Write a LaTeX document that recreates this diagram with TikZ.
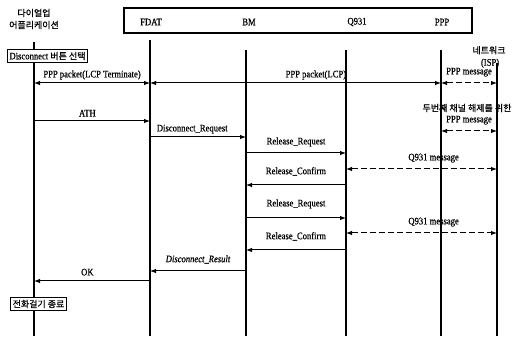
\documentclass[tikz,border=0pt]{standalone}
\usepackage{fontspec}
\setmainfont{Liberation Serif}[FakeStretch=0.86, FakeBold=0.6]
\newfontfamily\kor{Noto Sans CJK KR}[FakeBold=0.8]
\usetikzlibrary{arrows.meta, positioning}

\tikzset{
  life/.style={line width=1.1pt},
  tip/.style={-{Latex[length=6pt, width=4.5pt]}},
  msg/.style={line width=1pt, tip},
  both/.style={line width=1pt, {Latex[length=6pt, width=4.5pt]}-{Latex[length=6pt, width=4.5pt]}},
  dmsg/.style={both, dash pattern=on 6pt off 3pt},
  lbl/.style={inner sep=0pt, font=\fontsize{10}{11}\selectfont},
  korlbl/.style={inner sep=0pt, font=\kor\fontsize{9}{11}\selectfont},
  note/.style={draw, line width=1pt, fill=white, inner sep=2pt, font=\fontsize{10}{11}\selectfont}
}

\begin{document}
\begin{tikzpicture}[x=1pt, y=-1pt]
    \useasboundingbox (0,0) rectangle (517,339);

    % Header box
    \draw[life] (124,8) rectangle (472,33);
    \node[lbl] (fdat-h) at (151,22) {FDAT};
    \node[lbl] (bm-h) at (249,22) {BM};
    \node[lbl] (q931-h) at (357,22) {Q931};
    \node[lbl] (ppp-h) at (442,22) {PPP};

    % Application and network
    \node[korlbl, align=center] (app-h) at (34,19) {다이얼업\\[1pt]어플리케이션};
    \node[korlbl, align=center] (isp-h) at (489,57) {네트워크\\[1pt]{\rmfamily\fontsize{10}{11}\selectfont\ (ISP)}};

    % Lifelines
    \coordinate (app) at (34,42);   \coordinate (app-e) at (34,336);
    \coordinate (fdat) at (150,40); \coordinate (fdat-e) at (150,336);
    \coordinate (bm) at (246,50);   \coordinate (bm-e) at (246,336);
    \coordinate (q931) at (346,50); \coordinate (q931-e) at (346,336);
    \coordinate (ppp) at (441,50);  \coordinate (ppp-e) at (441,336);
    \coordinate (isp) at (497,63);  \coordinate (isp-e) at (497,336);
    \foreach \a in {app, fdat, bm, q931, ppp, isp}
        \draw[life] (\a) -- (\a-e);

    % Message levels
    \coordinate (y-lcp) at (0,83);
    \coordinate (y-ath) at (0,121);
    \coordinate (y-dreq) at (0,137);
    \coordinate (y-ppp2) at (0,131);
    \coordinate (y-rreq1) at (0,153);
    \coordinate (y-q1) at (0,169);
    \coordinate (y-rconf1) at (0,185);
    \coordinate (y-rreq2) at (0,218);
    \coordinate (y-q2) at (0,233);
    \coordinate (y-rconf2) at (0,250);
    \coordinate (y-dres) at (0,271);
    \coordinate (y-ok) at (0,281);

    % LCP terminate
    \draw[both] (app |- y-lcp) -- (fdat |- y-lcp) node[lbl, above=3pt, midway] {PPP packet(LCP Terminate)};
    \draw[both] (fdat |- y-lcp) -- (ppp |- y-lcp) node[lbl, above=3pt, pos=0.57] {PPP packet(LCP)};
    \draw[dmsg] (ppp |- y-lcp) -- (isp |- y-lcp) node[lbl, above=6pt, midway] {PPP message};

    % Disconnect
    \draw[msg] (app |- y-ath) -- (fdat |- y-ath) node[lbl, above=4pt, pos=0.46] {ATH};
    \draw[msg] (fdat |- y-dreq) -- (bm |- y-dreq) node[lbl, above=3pt, pos=0.44] {Disconnect\_Request};

    % Second channel
    \node[korlbl] (chan2) at (467,108) {두번째 채널 해제를 위한};
    \draw[dmsg] (ppp |- y-ppp2) -- (isp |- y-ppp2) node[lbl, above=6pt, midway] {PPP message};

    % Release sequence
    \draw[msg] (bm |- y-rreq1) -- (q931 |- y-rreq1) node[lbl, above=6pt, midway] {Release\_Request};
    \draw[dmsg] (q931 |- y-q1) -- (isp |- y-q1) node[lbl, above=6pt, pos=0.58] {Q931 message};
    \draw[msg] (q931 |- y-rconf1) -- (bm |- y-rconf1) node[lbl, above=9pt, midway] {Release\_Confirm};
    \draw[msg] (bm |- y-rreq2) -- (q931 |- y-rreq2) node[lbl, above=9pt, midway] {Release\_Request};
    \draw[dmsg] (q931 |- y-q2) -- (isp |- y-q2) node[lbl, above=6pt, pos=0.58] {Q931 message};
    \draw[msg] (q931 |- y-rconf2) -- (bm |- y-rconf2) node[lbl, above=9pt, midway] {Release\_Confirm};

    % Result
    \draw[msg] (bm |- y-dres) -- (fdat |- y-dres) node[lbl, above=7pt, midway] {\itshape Disconnect\_Result};
    \draw[msg] (fdat |- y-ok) -- (app |- y-ok) node[lbl, above=5pt, pos=0.54] {OK};

    % Notes
    \node[note] (disc) at (47.5,56) {Disconnect {\kor\fontsize{9}{10}\selectfont 버튼 선택}};
    \node[note, font=\kor\fontsize{9}{10}\selectfont] (done) at (38.5,304) {전화걸기 종료};

\end{tikzpicture}
\end{document}
